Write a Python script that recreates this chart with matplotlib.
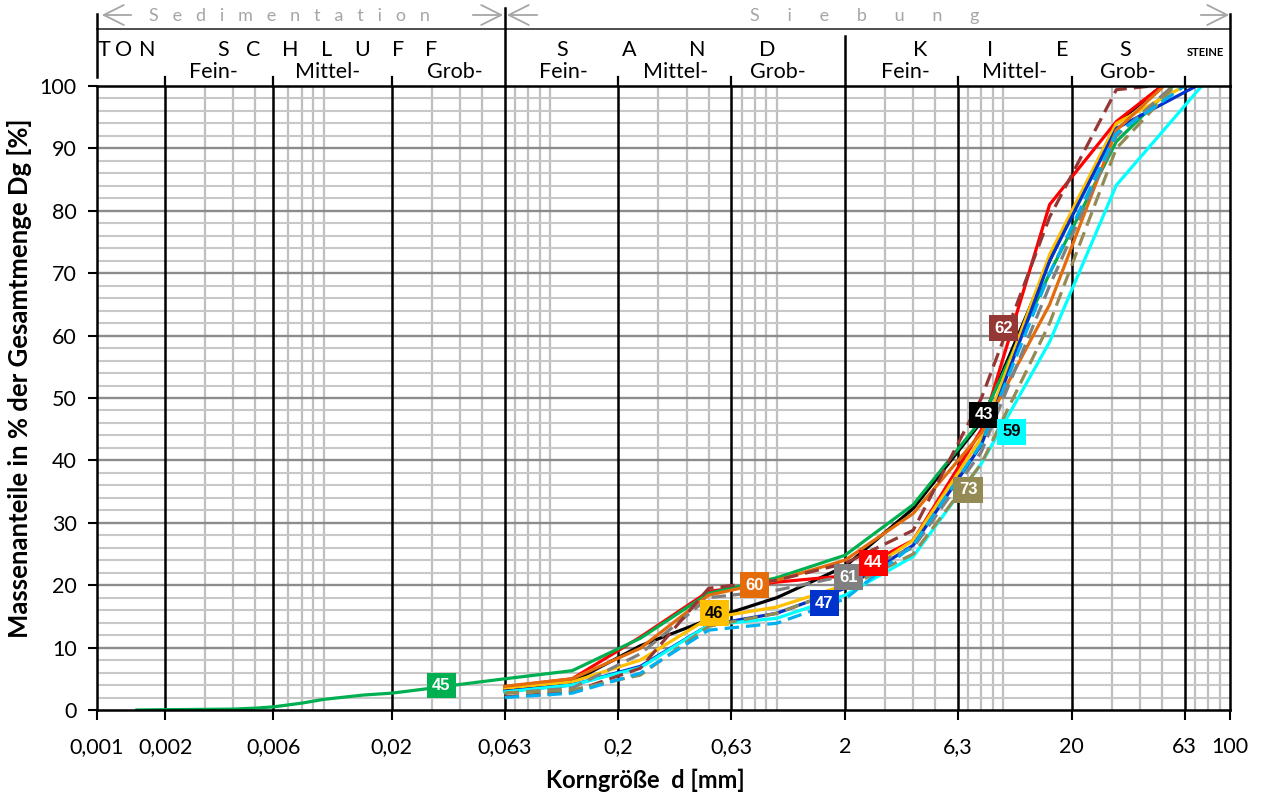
import numpy as np
import matplotlib
matplotlib.use('Agg')
import matplotlib.pyplot as plt
from matplotlib.transforms import blended_transform_factory

W, H = 1262, 796

# ---------------- data ----------------
sieves = [0.063, 0.125, 0.25, 0.5, 1, 2, 4, 8, 16, 31.5]

s43 = [3.3, 4.5, 10.3, 14.5, 18.0, 23.0, 32.3, 46.2, 72.0, 94.0]
s44 = [3.7, 5.0, 11.7, 19.0, 20.5, 21.5, 27.2, 44.9, 81.0, 94.3]
s45 = [5.0, 6.3, 11.5, 18.7, 21.2, 24.8, 32.9, 46.5, 70.0, 91.1]
s46 = [3.5, 4.5, 8.0, 14.7, 16.5, 20.0, 27.2, 43.6, 73.0, 94.0]
s47 = [3.0, 4.0, 7.0, 13.6, 15.5, 19.5, 26.4, 42.5, 72.0, 93.2]
s59 = [2.9, 4.0, 6.8, 13.6, 14.7, 18.4, 24.6, 39.5, 59.0, 84.1]
s60 = [3.8, 5.0, 9.9, 18.4, 20.8, 24.0, 31.5, 44.4, 65.0, 92.9]
s61 = [2.7, 3.5, 9.0, 18.0, 19.2, 21.5, 26.0, 41.4, 68.0, 92.0]
s62 = [2.1, 2.9, 6.7, 19.5, 20.8, 23.5, 28.8, 50.0, 79.0, 99.4]
s73 = [2.7, 3.2, 5.6, 13.4, 15.5, 19.5, 25.0, 39.5, 62.0, 90.0]
s_lb = [2.0, 2.7, 5.9, 12.8, 13.9, 17.8, 26.4, 42.7, 70.0, 92.4]

# size at which each sample reaches 100 %
dmax = {'43': 50, '44': 50, '45': 56, '46': 63, '47': 71, '59': 75,
        '60': 51, '61': 56, '62': 45, '73': 57, 'lb': 63}

# sedimentation (hydrometer) part of sample 45
sed_d = [0.0015, 0.002, 0.003, 0.004, 0.005, 0.006, 0.008, 0.01, 0.015, 0.02, 0.03, 0.04]
sed_v = [0.0, 0.05, 0.1, 0.15, 0.3, 0.5, 1.1, 1.7, 2.4, 2.7, 3.5, 4.1]

series = [
    ('43', s43, '#000000', '-'),
    ('44', s44, '#FF0000', '-'),
    ('45', s45, '#00B050', '-'),
    ('46', s46, '#FFC000', '-'),
    ('47', s47, '#0033CC', '-'),
    ('59', s59, '#00FFFF', '-'),
    ('60', s60, '#E46C0A', '-'),
    ('61', s61, '#808080', '--'),
    ('62', s62, '#953735', '--'),
    ('73', s73, '#948A54', '--'),
    ('lb', s_lb, '#00B0F0', '--'),
]

# label boxes: (name, d, value, box colour, text colour)
tags = [
    ('45', 0.033, 3.9, '#00B050', 'white'),
    ('46', 0.53, 15.5, '#FFC000', 'black'),
    ('60', 0.80, 20.0, '#E46C0A', 'white'),
    ('47', 1.62, 17.1, '#0033CC', 'white'),
    ('61', 2.08, 21.3, '#808080', 'white'),
    ('44', 2.67, 23.6, '#FF0000', 'white'),
    ('73', 6.98, 35.3, '#948A54', 'white'),
    ('43', 8.2, 47.3, '#000000', 'white'),
    ('59', 10.9, 44.6, '#00FFFF', 'black'),
    ('62', 10.0, 61.2, '#953735', 'white'),
]

xticks = [0.001, 0.002, 0.006, 0.02, 0.063, 0.2, 0.63, 2, 6.3, 20, 63, 100]
xticklabels = ['0,001', '0,002', '0,006', '0,02', '0,063', '0,2', '0,63', '2', '6,3', '20', '63', '100']
major_lines = [0.002, 0.006, 0.02, 0.063, 0.2, 0.63, 2, 6.3, 20, 63]
yticks = list(range(0, 101, 10))

FONT = 'Lato'

# ---------------- figure ----------------
fig = plt.figure(figsize=(W / 100, H / 100), dpi=100)
L, R, T, B = 97, 1230, 86, 710
ax = fig.add_axes([L / W, 1 - B / H, (R - L) / W, (B - T) / H])
ax.set_xscale('log')
ax.set_xlim(0.001, 100)
ax.set_ylim(0, 100)

# grid
for e in range(-3, 2):
    for k in [3, 4, 5, 7, 8, 9, 10]:
        v = k * 10.0 ** e
        if v < 100:
            ax.axvline(v, color='#BFBFBF', lw=1.6, zorder=1)
for v in range(2, 100, 2):
    if v % 10:
        ax.axhline(v, color='#C8C8C8', lw=1.5, zorder=1)
for v in range(10, 100, 10):
    ax.axhline(v, color='#8C8C8C', lw=1.7, zorder=1.2)
for v in major_lines:
    ax.axvline(v, color='black', lw=1.8, zorder=1.5)

# data lines
for name, vals, col, ls in series:
    xs = list(sieves) + [dmax[name]]
    ys = list(vals) + [100.0]
    if name == '45':
        xs = sed_d + xs
        ys = sed_v + ys
    line, = ax.plot(xs, ys, color=col, lw=2.3, ls=ls, zorder=3, solid_joinstyle='round')
    if ls == '--':
        line.set_dashes((4.5, 2.2))

for name, d, v, fc, tc in tags:
    ax.text(d, v, name, ha='center', va='center', fontsize=12, fontweight='bold',
            family='Liberation Sans', color=tc, zorder=5,
            bbox=dict(boxstyle='square,pad=0.32', fc=fc, ec='none'))

# axes styling
for s in ax.spines.values():
    s.set_color('black')
    s.set_linewidth(1.8)
    s.set_zorder(4)
ax.set_xticks(xticks)
ax.set_xticklabels(xticklabels)
ax.xaxis.set_minor_locator(matplotlib.ticker.NullLocator())
ax.set_yticks(yticks)
ax.set_yticklabels([str(v) for v in yticks])
ax.tick_params(axis='x', length=7, width=1.5, pad=12.5, labelsize=15.5)
ax.tick_params(axis='y', length=6.5, width=1.5, pad=8, labelsize=15.5)
for lab in ax.get_xticklabels() + ax.get_yticklabels():
    lab.set_family(FONT)

fig.text(645 / W, 1 - 780 / H, 'Korngröße  d [mm]', ha='center', va='center',
         fontsize=17, fontweight='bold', family=FONT)
fig.text(20 / W, 1 - 378 / H, 'Massenanteile in % der Gesamtmenge Dg [%]', ha='center',
         va='center', rotation=90, fontsize=18.5, fontweight='bold', family=FONT)

# ---------------- header ----------------
tr = blended_transform_factory(ax.transData, ax.transAxes)


def yf(ypx):
    return (B - ypx) / (B - T)


def hline(x0, x1, ypx, **kw):
    ax.plot([x0, x1], [yf(ypx), yf(ypx)], transform=tr, clip_on=False, **kw)


def vline(x, y0, y1, **kw):
    ax.plot([x, x], [yf(y0), yf(y1)], transform=tr, clip_on=False, **kw)


hline(0.001, 100, 29, color='#404040', lw=1.3)
vline(0.001, 14, 77, color='black', lw=1.8)
vline(100, 14, 86, color='black', lw=1.8)
vline(0.063, 8, 86, color='black', lw=1.8)
vline(2, 36, 86, color='black', lw=1.8)
for v in [0.002, 0.006, 0.02, 0.2, 0.63, 6.3, 20, 63]:
    vline(v, 77, 86, color='black', lw=1.6)


def fx(x):
    return x / W


def fy(y):
    return 1 - y / H


for x0, x1 in [(134, 99), (470, 506), (540, 504), (1198, 1232)]:
    fig.add_artist(matplotlib.patches.FancyArrowPatch(
        (fx(x0), fy(15)), (fx(x1), fy(15)), transform=fig.transFigure,
        arrowstyle='->,head_length=0.9,head_width=0.45', color='#A6A6A6', lw=1.3,
        mutation_scale=16))

fig.text(fx(289), fy(16), '   '.join('Sedimentation'), ha='center', va='center',
         fontsize=13, color='#A6A6A6', family=FONT)
fig.text(fx(865), fy(16), '      '.join('Siebung'), ha='center', va='center',
         fontsize=13, color='#A6A6A6', family=FONT)

letters = [('T', 104), ('O', 124), ('N', 147),
           ('S', 223), ('C', 253), ('H', 290), ('L', 327), ('U', 362), ('F', 398), ('F', 431),
           ('S', 562), ('A', 629), ('N', 697), ('D', 767),
           ('K', 920), ('I', 990), ('E', 1062), ('S', 1125)]
for ch, x in letters:
    fig.text(fx(x), fy(50), ch, ha='center', va='center', fontsize=15.5, family=FONT)
fig.text(fx(1205), fy(53), 'STEINE', ha='center', va='center', fontsize=8,
         fontweight='bold', family=FONT)
for word, x in [('Fein-', 213), ('Mittel-', 328), ('Grob-', 455),
                ('Fein-', 563), ('Mittel-', 676), ('Grob-', 778),
                ('Fein-', 905), ('Mittel-', 1015), ('Grob-', 1128)]:
    fig.text(fx(x), fy(72), word, ha='center', va='center', fontsize=15.5, family=FONT)

fig.savefig('out.png', dpi=100)
